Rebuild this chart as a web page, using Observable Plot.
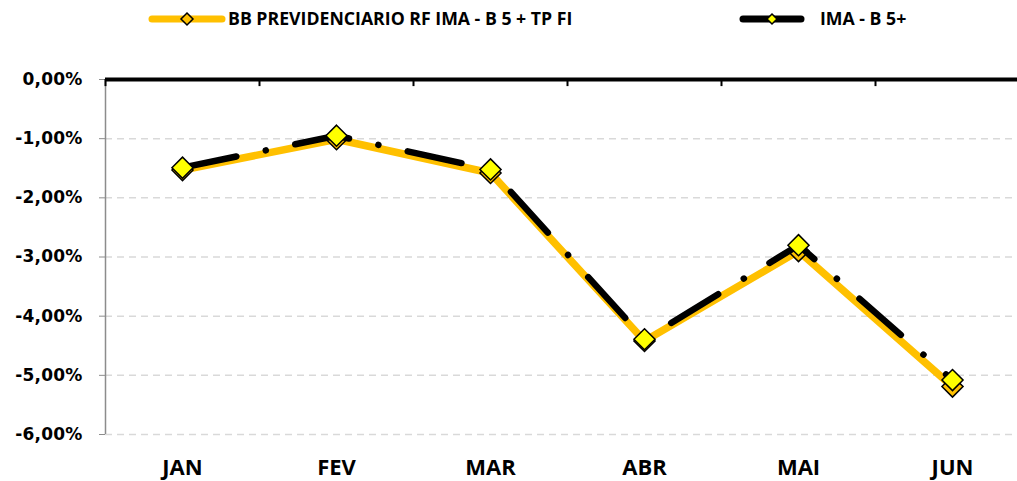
<!DOCTYPE html>
<html><head><meta charset="utf-8">
<script src="https://cdn.jsdelivr.net/npm/d3@7"></script>
<script src="https://cdn.jsdelivr.net/npm/@observablehq/plot@0.6"></script>
<style>
body{margin:0;background:#fff;overflow:hidden;font-family:"Open Sans",Lato,sans-serif;}
#legend{position:relative;height:40px;width:1017px;font-weight:bold;font-size:17.7px;color:#000;}
#legend .sw{position:absolute;top:9px;}
#legend .lb{position:absolute;top:7px;line-height:22px;white-space:nowrap;}
.yax text{font-family:"DejaVu Sans",sans-serif;letter-spacing:0.2px;}
</style></head><body>
<div id="legend"></div><div id="chart"></div>
<script>
const months = ["JAN","FEV","MAR","ABR","MAI","JUN"];
const fundValues = [-1.53,-1.01,-1.58,-4.42,-2.90,-5.19];
const benchValues = [-1.49,-0.95,-1.52,-4.39,-2.80,-5.08];
const yTicks = [0,-1,-2,-3,-4,-5,-6];
const seriesNames = ["BB PREVIDENCIARIO RF IMA - B 5 + TP FI","IMA - B 5+"];
const orange = "#FFC000", yellow = "#FFFF00";

const data = months.map((m,i)=>({i, m, fund: fundValues[i], bench: benchValues[i]}));
const fmt = d => d.toFixed(2).replace(".", ",") + "%";

// legend
const lg = d3.select("#legend");
const items = [
  {name: seriesNames[0], x: 148, w: 78, tx: 228, stroke: orange, sw: 7, mfill: orange, ms: 6},
  {name: seriesNames[1], x: 739, w: 66, tx: 820, stroke: "black", sw: 7, mfill: yellow, ms: 5}
];
for (const it of items) {
  const s = lg.append("svg").attr("class","sw").style("left", it.x+"px").attr("width", it.w).attr("height", 20);
  s.append("line").attr("x1",4).attr("x2",it.w-4).attr("y1",10).attr("y2",10)
    .attr("stroke",it.stroke).attr("stroke-width",it.sw).attr("stroke-linecap","round");
  const c = it.w/2, r = it.ms;
  s.append("path").attr("d",`M${c},${10-r}L${c+r},10L${c},${10+r}L${c-r},10Z`)
    .attr("fill",it.mfill).attr("stroke","black").attr("stroke-width",1.5);
  lg.append("div").attr("class","lb").style("left", it.tx+"px").text(it.name);
}

const chart = Plot.plot({
  width: 1017, height: 441,
  marginLeft: 105, marginRight: 0, marginTop: 39, marginBottom: 47,
  x: {type: "linear", domain: [-0.5, 5.5], range: [105, 1029]},
  y: {domain: [-6, 0], range: [394, 39]},
  style: {fontFamily: "'Open Sans', Lato, sans-serif", background: "white", overflow: "visible", color: "black"},
  marks: [
    Plot.ruleY(yTicks.filter(d => d < 0), {x1: -0.5, x2: 5.5, stroke: "#d9d9d9", strokeWidth: 1.5, strokeDasharray: "7,5"}),
    Plot.ruleX([-0.5], {y1: -6, y2: 0, stroke: "#8c8c8c", strokeWidth: 1.5}),
    Plot.axisY({ticks: yTicks, tickSize: 6, tickPadding: 17, tickFormat: fmt, fontSize: 17, fontWeight: "bold", stroke: "#8c8c8c", fill: "black", label: null, className: "yax"}),
    Plot.ruleY([0], {x1: -0.5, x2: 5.5, stroke: "black", strokeWidth: 4}),
    Plot.ruleX([-0.5, 0.5, 1.5, 2.5, 3.5, 4.5], {y1: 0, y2: -0.12, stroke: "black", strokeWidth: 2}),
    Plot.line(data, {x: "i", y: "fund", stroke: orange, strokeWidth: 7.5, strokeLinejoin: "round"}),
    Plot.dot(data, {x: "i", y: "fund", symbol: "diamond2", r: 9.5, fill: orange, stroke: "black", strokeWidth: 1.5}),
    Plot.line(data, {x: "i", y: "bench", stroke: "black", strokeWidth: 6.5, strokeDasharray: "55,30,0.1,30", strokeLinecap: "round", strokeLinejoin: "round"}),
    Plot.dot(data, {x: "i", y: "bench", symbol: "diamond2", r: 9.5, fill: yellow, stroke: "black", strokeWidth: 1.5}),
    Plot.axisX({ticks: [0,1,2,3,4,5], tickFormat: i => months[i], tickSize: 0, tickPadding: 25, fontSize: 22, fontWeight: "bold", label: null})
  ]
});
document.getElementById("chart").appendChild(chart);
</script>
</body></html>
